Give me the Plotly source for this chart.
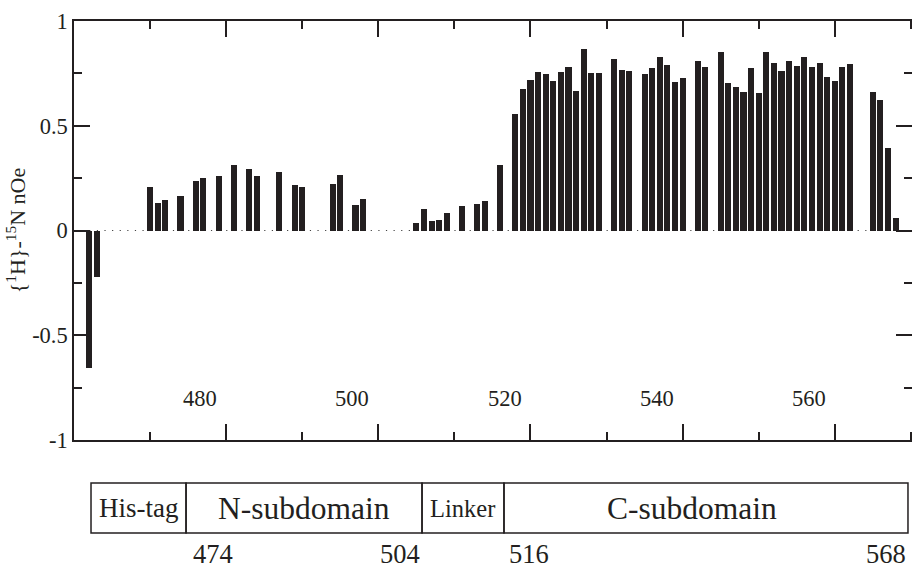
import plotly.graph_objects as go

# ---- data ----
residues = [462, 463, 470, 471, 472, 474, 476, 477, 479, 481, 483, 484, 487, 489, 490,
            494, 495, 497, 498, 505, 506, 507, 508, 509, 511, 513, 514, 516, 518, 519,
            520, 521, 522, 523, 524, 525, 526, 527, 528, 529, 531, 532, 533, 535, 536,
            537, 538, 539, 540, 542, 543, 545, 546, 547, 548, 549, 550, 551, 552, 553,
            554, 555, 556, 557, 558, 559, 560, 561, 562, 565, 566, 567, 568]
noe = [-0.655, -0.223, 0.206, 0.133, 0.144, 0.165, 0.238, 0.249, 0.260, 0.314, 0.295, 0.262,
       0.278, 0.219, 0.206, 0.222, 0.263, 0.122, 0.149, 0.038, 0.101, 0.044, 0.050, 0.082,
       0.117, 0.128, 0.141, 0.313, 0.558, 0.674, 0.717, 0.755, 0.747, 0.714, 0.755, 0.779,
       0.666, 0.866, 0.752, 0.752, 0.820, 0.768, 0.760, 0.745, 0.777, 0.827, 0.790, 0.709,
       0.726, 0.807, 0.779, 0.852, 0.704, 0.685, 0.661, 0.774, 0.655, 0.851, 0.798, 0.761,
       0.809, 0.785, 0.827, 0.780, 0.800, 0.733, 0.715, 0.779, 0.795, 0.663, 0.623, 0.394,
       0.060]

x_tick_labels = [480, 500, 520, 540, 560]
y_tick_vals = [-1, -0.5, 0, 0.5, 1]
y_tick_text = ["-1", "-0.5", "0", "0.5", "1"]

domain_names = ["His-tag", "N-subdomain", "Linker", "C-subdomain"]
domain_boundary_labels = ["474", "504", "516", "568"]

# ---- styling / layout constants ----
INK = "#231f20"
FONT = "Liberation Serif"
W, H = 912, 565
ML, MR, MT, MB = 74, 0, 21, 125
XR = [460, 570.15]
label_shift = 3.4          # x labels sit left of the major ticks in the original
label_y = -0.8

# domain schematic geometry (paper coordinates)
dom_edges = [0.0203, 0.1337, 0.4153, 0.5131, 0.9952]
dom_y0, dom_y1 = -0.222, -0.1026
dom_text_x = [None, None, None, 0.738]
dom_font = [27, 31.5, 24.5, 31.5]
num_y = -0.271

fig = go.Figure()
fig.add_trace(go.Bar(x=residues, y=noe, width=0.8, marker_color=INK,
                     marker_line_width=0, showlegend=False))

# dotted zero line: one dot per residue
plot_w = W - ML - MR
px_per_unit = plot_w / (XR[1] - XR[0])
fig.add_shape(type="line", xref="x", yref="y", x0=XR[0], x1=XR[1], y0=0, y1=0,
              line=dict(color="#444444", width=1.2,
                        dash=f"1.2px,{px_per_unit - 1.2:.3f}px"), layer="below")

annotations = []
for v in x_tick_labels:
    annotations.append(dict(x=v - label_shift, y=label_y, xref="x", yref="y",
                            text=str(v), showarrow=False, xanchor="center",
                            font=dict(family=FONT, size=22.5, color=INK)))

for i, name in enumerate(domain_names):
    x0, x1 = dom_edges[i], dom_edges[i + 1]
    fig.add_shape(type="rect", xref="paper", yref="paper", x0=x0, x1=x1,
                  y0=dom_y0, y1=dom_y1, line=dict(color=INK, width=1.5),
                  fillcolor="rgba(0,0,0,0)")
    tx = dom_text_x[i] if dom_text_x[i] is not None else (x0 + x1) / 2
    annotations.append(dict(x=tx, y=(dom_y0 + dom_y1) / 2, xref="paper", yref="paper",
                            text=name, showarrow=False, xanchor="center", yanchor="middle",
                            font=dict(family=FONT, size=dom_font[i], color=INK)))

# boundary residue numbers under N- and C-subdomain boxes
num_pos = [(dom_edges[1] + 0.006, "left"), (dom_edges[2], "right"),
           (dom_edges[3] + 0.004, "left"), (dom_edges[4], "right")]
for (px, anc), lab in zip(num_pos, domain_boundary_labels):
    annotations.append(dict(x=px, y=num_y, xref="paper", yref="paper", text=lab,
                            showarrow=False, xanchor=anc, yanchor="middle",
                            font=dict(family=FONT, size=26.5, color=INK)))

fig.update_layout(
    width=W, height=H,
    margin=dict(l=ML, r=MR, t=MT, b=MB, autoexpand=False),
    paper_bgcolor="white", plot_bgcolor="white",
    bargap=0,
    annotations=annotations,
    xaxis=dict(range=XR, showline=True, linecolor=INK, linewidth=1.5, mirror="ticks",
               ticks="inside", ticklen=16, tickwidth=1.5, tickcolor=INK,
               tick0=480, dtick=20, showticklabels=False, showgrid=False, zeroline=False,
               minor=dict(ticks="inside", ticklen=8, tickwidth=1.5, tickcolor=INK,
                          tick0=470, dtick=10, showgrid=False)),
    yaxis=dict(range=[-1, 1], showline=True, linecolor=INK, linewidth=1.5, mirror="ticks",
               ticks="inside", ticklen=16, tickwidth=1.5, tickcolor=INK,
               tickvals=y_tick_vals, ticktext=y_tick_text,
               tickfont=dict(family=FONT, size=22.5, color=INK),
               showgrid=False, zeroline=False,
               minor=dict(ticks="inside", ticklen=8, tickwidth=1.5, tickcolor=INK,
                          tick0=-1, dtick=0.25, showgrid=False),
               title=dict(text="{<sup>1</sup>H}-<sup>15</sup>N nOe",
                          font=dict(family=FONT, size=22, color=INK), standoff=0)),
)

# remove the browser's default 8px page margin so the figure sits at the window origin
fig.write_html("out.html", config={"displayModeBar": False},
               post_script="document.body.style.margin='0';document.body.style.overflow='hidden';")
